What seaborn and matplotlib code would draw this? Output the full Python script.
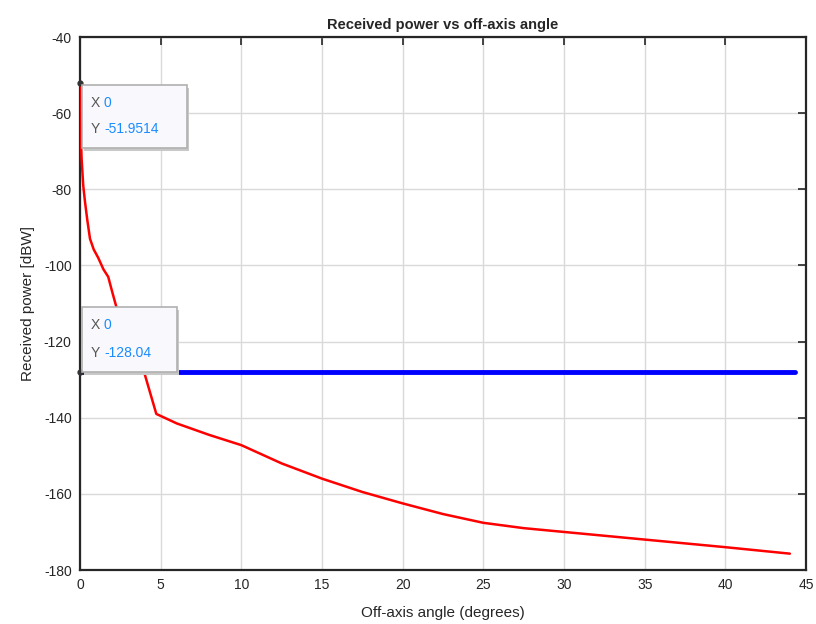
import matplotlib
matplotlib.use("Agg")
import matplotlib.pyplot as plt
import seaborn as sns
import pandas as pd
import numpy as np

angle_deg = [0, 0.02, 0.05, 0.1, 0.2, 0.31, 0.45, 0.62, 0.85, 1.13, 1.45, 1.75, 2.0, 2.26,
             3.0, 4.0, 4.73, 6, 8, 10, 12.5, 15, 17.5, 20, 22.5, 25, 27.5, 30, 35, 40, 44]
received_dbw = [-51.9514, -60, -66, -72, -79, -83.3, -88, -93, -95.8, -98, -101, -103, -107, -111,
                -119, -128.4, -139, -141.5, -144.5, -147.2, -152, -156, -159.5, -162.5, -165.3,
                -167.6, -169, -170, -172, -174, -175.7]
threshold_x = [0, 44.3]
threshold_y = [-128.04, -128.04]

x_ticks = [0, 5, 10, 15, 20, 25, 30, 35, 40, 45]
y_ticks = [-180, -160, -140, -120, -100, -80, -60, -40]

sns.set_theme(style="white")
plt.rcParams['font.family'] = ['Liberation Sans', 'DejaVu Sans']
plt.rcParams['axes.unicode_minus'] = False

fig = plt.figure(figsize=(8.16, 6.24), dpi=100)
ax_left, ax_right = 80 / 816, 806 / 816
ax = fig.add_axes([ax_left, 0.0865, ax_right - ax_left, 0.8542])

df_curve = pd.DataFrame({"x": angle_deg, "y": received_dbw})
df_thr = pd.DataFrame({"x": threshold_x, "y": threshold_y})

sns.lineplot(data=df_curve, x="x", y="y", ax=ax, color="#ff0000", linewidth=1.8, zorder=3)
sns.lineplot(data=df_thr, x="x", y="y", ax=ax, color="#0000ff", linewidth=3.5, zorder=4)

ax.set_xlim(0, 45)
ax.set_ylim(-180, -40)
ax.set_xticks(x_ticks)
ax.set_yticks(y_ticks)
ax.grid(True, color="#d9d9d9", linewidth=1.0)
ax.set_axisbelow(True)
ax.tick_params(direction="in", length=6, width=1.2, top=True, right=True,
               labelsize=10, colors="#262626", pad=6)
for s in ax.spines.values():
    s.set_color("#262626")
    s.set_linewidth(1.6)

ax.set_title("Received power vs off-axis angle", fontsize=10.5, fontweight="bold", pad=6)
ax.set_xlabel("Off-axis angle (degrees)", fontsize=11, labelpad=10)
ax.set_ylabel("Received power [dBW]", fontsize=11, labelpad=6)

# data tip markers
ax.plot([angle_deg[0]], [received_dbw[0]], marker="o", markersize=3.5, color="#333333",
        zorder=6, clip_on=False)
ax.plot([threshold_x[0]], [threshold_y[0]], marker="o", markersize=3.5, color="#333333",
        zorder=6, clip_on=False)

def datatip(xv, ytext, box_top_frac, box_h_frac, box_w_frac):
    x0 = 0.003
    shadow = plt.Rectangle((x0 + 0.003, box_top_frac - box_h_frac - 0.005), box_w_frac, box_h_frac,
                           transform=ax.transAxes, facecolor="#c8c8c8", edgecolor="none",
                           zorder=6, clip_on=False)
    ax.add_patch(shadow)
    box = plt.Rectangle((x0, box_top_frac - box_h_frac), box_w_frac, box_h_frac,
                        transform=ax.transAxes, facecolor="#f9f9fd", edgecolor="#b0b0b0",
                        linewidth=1.2, zorder=7, clip_on=False)
    ax.add_patch(box)
    tx = x0 + 0.012
    ax.text(tx, box_top_frac - box_h_frac * 0.28, "X", transform=ax.transAxes,
            fontsize=10, color="#555555", va="center", zorder=8)
    ax.text(tx + 0.018, box_top_frac - box_h_frac * 0.28, f"{xv:g}", transform=ax.transAxes,
            fontsize=10, color="#1a8cff", va="center", zorder=8)
    ax.text(tx, box_top_frac - box_h_frac * 0.7, "Y", transform=ax.transAxes,
            fontsize=10, color="#555555", va="center", zorder=8)
    ax.text(tx + 0.018, box_top_frac - box_h_frac * 0.7, ytext, transform=ax.transAxes,
            fontsize=10, color="#1a8cff", va="center", zorder=8)

w_px = 806 - 80
datatip(angle_deg[0], "-51.9514", 1 - (85 - 37) / 533, 63 / 533, 105 / w_px)
datatip(threshold_x[0], "-128.04", 1 - (307 - 37) / 533, 65 / 533, 95 / w_px)

fig.savefig("out.png", dpi=100, facecolor="white")
